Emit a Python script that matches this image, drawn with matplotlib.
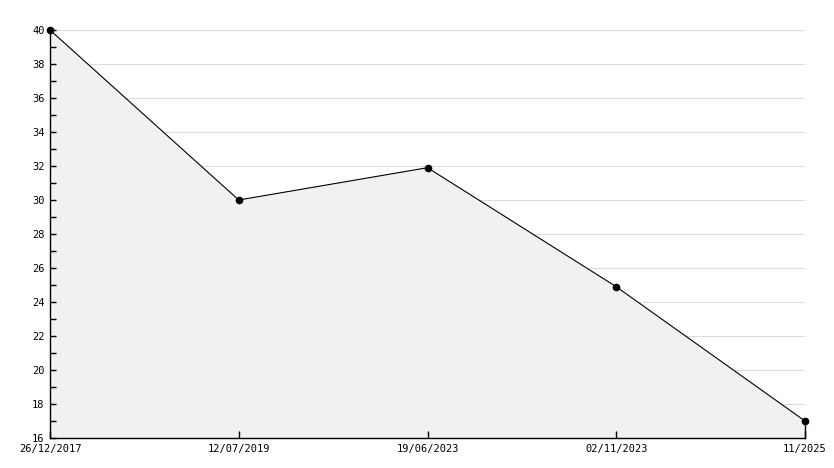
import matplotlib
matplotlib.use("Agg")
import matplotlib.pyplot as plt
from matplotlib.ticker import MultipleLocator

dates = ["26/12/2017", "12/07/2019", "19/06/2023", "02/11/2023", "11/2025"]
values = [40, 30, 31.9, 24.9, 17]
y_min, y_max = 16, 40

W, H = 834, 468
fig = plt.figure(figsize=(W/100, H/100), dpi=100)
ax = fig.add_axes([50/W, (H-438)/H, (805-50)/W, (438-30)/H])

x = list(range(len(dates)))
for yv in range(y_min + 2, y_max + 1, 2):
    ax.axhline(yv, color="#dddddd", lw=0.8, zorder=0.2)
ax.fill_between(x, values, y_min, facecolor="#f1f1f1", edgecolor="none", zorder=1)
ax.plot(x, values, color="black", lw=0.8, zorder=3, clip_on=False)
ax.plot(x, values, linestyle="none", marker="o", ms=4.5, color="black", zorder=6,
        clip_on=False)
ax.plot([x[-1], x[-1]], [values[-1], y_min], color="black", lw=1, zorder=3,
        clip_on=False)

ax.set_xlim(0, len(dates)-1)
ax.set_ylim(y_min, y_max)
ax.yaxis.set_major_locator(MultipleLocator(2))
ax.yaxis.set_minor_locator(MultipleLocator(1))
ax.set_xticks(x)
ax.set_xticklabels(dates)
ax.set_axisbelow(False)

for s in ["top", "right"]:
    ax.spines[s].set_visible(False)
for s in ["left", "bottom"]:
    ax.spines[s].set_linewidth(1)
    ax.spines[s].set_zorder(5)

font = "DejaVu Sans Mono"
ax.tick_params(axis="y", which="both", direction="in", length=4, width=1, pad=4,
               labelsize=7.5)
ax.tick_params(axis="x", which="major", direction="in", length=5, width=1, pad=4,
               labelsize=7.5)
for lab in ax.get_xticklabels() + ax.get_yticklabels():
    lab.set_fontfamily(font)

fig.savefig("out.png", dpi=100, facecolor="white")
